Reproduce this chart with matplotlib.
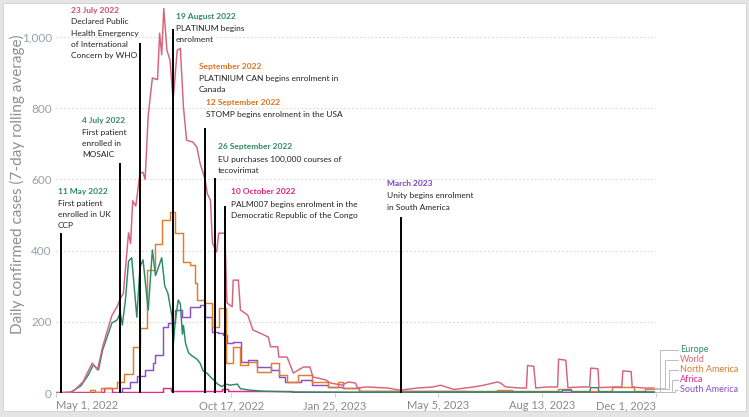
import matplotlib
matplotlib.use("Agg")
import matplotlib.pyplot as plt
import pandas as pd

# ---------------- DATA ----------------
world_dates = ["2022-05-01","2022-05-15","2022-05-17","2022-05-27","2022-05-31","2022-06-05","2022-06-10",
  "2022-06-15","2022-06-20","2022-06-24","2022-06-29","2022-07-02","2022-07-05","2022-07-10","2022-07-12",
  "2022-07-14","2022-07-17","2022-07-21","2022-07-24","2022-07-26","2022-07-29","2022-08-02","2022-08-07",
  "2022-08-09","2022-08-11","2022-08-13","2022-08-16","2022-08-19","2022-08-22","2022-08-26","2022-08-29",
  "2022-09-01","2022-09-04","2022-09-10","2022-09-14","2022-09-17","2022-09-22","2022-09-24","2022-09-27",
  "2022-09-29","2022-10-03","2022-10-05","2022-10-11","2022-10-13","2022-10-18","2022-10-19","2022-10-24",
  "2022-10-26","2022-11-02","2022-11-07","2022-11-14","2022-11-22","2022-11-24","2022-12-01","2022-12-02",
  "2022-12-10","2022-12-16","2022-12-21","2022-12-26","2023-01-01","2023-01-04","2023-01-16","2023-01-21",
  "2023-02-01","2023-02-07","2023-02-14","2023-02-16","2023-02-25","2023-03-17","2023-03-29","2023-04-15",
  "2023-04-30","2023-05-07","2023-05-20","2023-06-08","2023-06-18","2023-07-01","2023-07-04","2023-07-09",
  "2023-07-23","2023-07-29","2023-07-30","2023-08-05","2023-08-07","2023-08-18","2023-08-28","2023-08-29",
  "2023-09-05","2023-09-07","2023-09-19","2023-09-28","2023-09-29","2023-10-06","2023-10-07","2023-10-23",
  "2023-10-29","2023-10-30","2023-11-07","2023-11-08","2023-11-19","2023-11-29"]
world_vals = [0,2,3,31,55,84,65,130,180,218,243,265,280,450,420,540,525,617,620,600,780,885,880,1011,950,1080,
  963,935,823,963,968,803,710,705,690,646,598,560,542,421,396,449,449,253,242,317,317,233,219,177,168,157,130,
  130,101,101,56,65,73,73,45,37,28,22,31,28,14,17,14,8,14,17,22,10,17,22,31,28,17,14,14,77,75,14,17,17,95,92,
  15,17,17,70,68,15,17,17,62,60,17,14,14]

europe_dates = ["2022-05-01","2022-05-15","2022-05-25","2022-06-01","2022-06-06","2022-06-11","2022-06-15",
  "2022-06-24","2022-06-29","2022-07-02","2022-07-04","2022-07-07","2022-07-10","2022-07-13","2022-07-16",
  "2022-07-18","2022-07-21","2022-07-24","2022-07-28","2022-07-29","2022-08-02","2022-08-05","2022-08-08",
  "2022-08-11","2022-08-14","2022-08-17","2022-08-21","2022-08-22","2022-08-24","2022-08-26","2022-08-27",
  "2022-08-29","2022-08-31","2022-09-01","2022-09-03","2022-09-06","2022-09-09","2022-09-14","2022-09-17",
  "2022-09-20","2022-09-24","2022-09-27","2022-09-30","2022-10-04","2022-10-08","2022-10-12","2022-10-16",
  "2022-10-23","2022-10-26","2022-11-04","2022-11-17","2022-12-17","2023-02-25","2023-07-01","2023-09-01",
  "2023-09-02","2023-09-10","2023-09-11","2023-09-28","2023-09-29","2023-10-06","2023-10-07","2023-11-29"]
europe_vals = [0,2,20,50,79,65,121,197,205,225,191,261,370,380,281,213,354,374,261,233,402,330,354,380,300,
  280,213,129,200,242,261,250,165,190,140,112,105,95,84,62,55,45,37,25,18,25,22,25,12,8,5,3,2,3,3,8,8,3,3,15,
  15,3,3]

na_dates = ["2022-05-01","2022-06-03","2022-06-08","2022-06-13","2022-06-29","2022-07-06","2022-07-14",
  "2022-07-21","2022-07-28","2022-08-05","2022-08-11","2022-08-19","2022-08-24","2022-09-01","2022-09-07",
  "2022-09-12","2022-09-14","2022-09-22","2022-09-29","2022-10-05","2022-10-12","2022-10-19","2022-10-26",
  "2022-11-02","2022-11-11","2022-11-24","2022-12-02","2022-12-10","2022-12-21","2023-01-03","2023-01-18",
  "2023-01-28","2023-02-02","2023-02-17","2023-06-01","2023-07-01","2023-07-15","2023-08-28","2023-09-10",
  "2023-10-20","2023-11-10","2023-11-20","2023-11-29"]
na_vals = [0,8,3,14,31,53,130,183,345,418,486,508,449,368,360,309,261,253,185,239,84,129,79,87,59,84,51,31,
  51,31,17,31,14,6,5,8,5,10,5,17,5,10,10]

africa_dates = ["2022-05-01","2022-06-16","2022-06-24","2022-08-12","2022-08-20","2022-09-28","2022-10-08",
  "2022-10-14","2022-12-15","2023-03-01","2023-11-29"]
africa_vals = [2,14,3,14,5,6,10,6,3,2,2]

sa_dates = ["2022-05-01","2022-07-04","2022-07-11","2022-07-18","2022-07-26","2022-08-03","2022-08-05",
  "2022-08-12","2022-08-17","2022-08-24","2022-08-31","2022-09-07","2022-09-17","2022-09-22","2022-09-29",
  "2022-10-04","2022-10-09","2022-10-13","2022-10-19","2022-10-27","2022-11-02","2022-11-11","2022-11-24",
  "2022-12-02","2022-12-08","2022-12-23","2023-01-03","2023-01-18","2023-02-02","2023-02-17","2023-06-01",
  "2023-11-19","2023-11-29"]
sa_vals = [0,14,31,48,65,84,108,185,197,233,213,242,247,213,171,168,163,140,143,87,93,73,65,45,31,37,22,17,
  14,5,3,2,2]

# annotations: date of marker line, top of line (cases), header, body lines
ann_dates = ["2022-05-06","2022-07-02","2022-07-21","2022-08-22","2022-09-22","2022-10-01","2022-10-11","2023-03-30"]
ann_tops = [449,646,983,1022,744,604,525,494]

ann_headers = ["11 May 2022","4 July 2022","23 July 2022","19 August 2022","September 2022",
               "12 September 2022","26 September 2022","10 October 2022","March 2023"]
ann_bodies = [["First patient","enrolled in UK","CCP"],
              ["First patient","enrolled in","MOSAIC"],
              ["Declared Public","Health Emergency","of International","Concern by WHO"],
              ["PLATINUM begins","enrolment"],
              ["PLATINIUM CAN begins enrolment in","Canada"],
              ["STOMP begins enrolment in the USA"],
              ["EU purchases 100,000 courses of","tecovirimat"],
              ["PALM007 begins enrolment in the","Democratic Republic of the Congo"],
              ["Unity begins enrolment","in South America"]]

xtick_dates = ["2022-05-01","2022-10-17","2023-01-25","2023-05-05","2023-08-13","2023-12-01"]
xtick_labels = ["May 1, 2022","Oct 17, 2022","Jan 25, 2023","May 5, 2023","Aug 13, 2023","Dec 1, 2023"]
yticks = [0,200,400,600,800,1000]
ytick_labels = ["0","200","400","600","800","1,000"]

series_names = ["Europe","World","North America","Africa","South America"]

# ---------------- STYLE ----------------
W, H = 749, 417
C_WORLD = "#d6647c"
C_EUROPE = "#2b8b68"
C_NA = "#e07c2c"
C_AFRICA = "#e6288a"
C_SA = "#8a50c4"
ann_colors = ["#2f8a5e","#2f8a5e","#d04a6a","#2f8a5e","#e07020","#e07020","#2f8a5e","#e0207a","#7b3fc0"]
ann_hpos = [(58,191),(82,120),(71,10),(176,16),(199,66),(206,103),(218,147),(231,192),(387,184)]
LINE_GAP = 11.2
FIRST_GAP = 12

fig = plt.figure(figsize=(W/100, H/100), dpi=100)
fig.patch.set_facecolor("#e4e4e4")
bg = plt.Rectangle((3/W, 6/H), (W-6)/W, (H-9)/H, transform=fig.transFigure,
                   facecolor="white", edgecolor="#d0d0d0", lw=0.6, zorder=-5)
fig.patches.append(bg)

x0, x1 = 56, 656
ytop, ybot = 1, 393
ax = fig.add_axes([x0/W, (H-ybot)/H, (x1-x0)/W, (ybot-ytop)/H], zorder=2)
ax.set_facecolor("none")
xmin, xmax = pd.Timestamp("2022-05-01"), pd.Timestamp("2023-12-01")
ax.set_xlim(xmin, xmax)
ymax = (ybot - ytop) / 0.356
ax.set_ylim(0, ymax)

for s in ax.spines.values():
    s.set_visible(False)

for v in yticks[1:]:
    ax.axhline(v, color="#d8d8d8", lw=0.8, ls=(0, (1.5, 2)), zorder=0.5)
ax.axhline(0, color="#cfcfcf", lw=0.8, zorder=0.6)

def d(lst):
    return pd.to_datetime(lst)

lw = 1.05
ax.plot(d(africa_dates), africa_vals, color=C_AFRICA, lw=lw, drawstyle="steps-post", zorder=2.1)
ax.plot(d(sa_dates), sa_vals, color=C_SA, lw=lw, drawstyle="steps-post", zorder=2.2)
ax.plot(d(na_dates), na_vals, color=C_NA, lw=lw, drawstyle="steps-post", zorder=2.3)
ax.plot(d(europe_dates), europe_vals, color=C_EUROPE, lw=lw, zorder=2.4)
ax.plot(d(world_dates), world_vals, color=C_WORLD, lw=lw, zorder=2.5)

ax.vlines(d(ann_dates), 0, ann_tops, color="black", lw=1.4, zorder=3)

ax.set_xticks(d(xtick_dates))
ax.set_xticklabels(xtick_labels)
ax.tick_params(axis="x", length=3, color="#cccccc", labelsize=8, labelcolor="#888888", pad=2)
tl = ax.get_xticklabels()
tl[0].set_ha("left")
tl[-1].set_ha("right")
for t in tl:
    t.set_fontfamily("Lato")
ax.set_yticks(yticks)
ax.set_yticklabels(ytick_labels)
ax.tick_params(axis="y", length=0, labelsize=8.5, labelcolor="#96a0ad", pad=3)
for t in ax.get_yticklabels():
    t.set_fontfamily("Lato")

fig.text(17/W, 1-184/H, "Daily confirmed cases (7-day rolling average)", rotation=90,
         ha="center", va="center", fontsize=11, color="#8f8f8f", family="Lato")

def px(x, y):
    return x/W, 1 - y/H

AFS = 6.0
for hdr, body, col, (hx, hy) in zip(ann_headers, ann_bodies, ann_colors, ann_hpos):
    ax.text(*px(hx, hy), hdr, ha="left", va="center", fontsize=AFS, color=col,
            fontweight="bold", family="Lato", zorder=1.5, transform=fig.transFigure, clip_on=False,
            bbox=dict(facecolor="white", edgecolor="none", pad=0.3))
    for i, line in enumerate(body):
        ax.text(*px(hx, hy + FIRST_GAP + LINE_GAP*i), line, ha="left", va="center",
                fontsize=AFS, color="#222222", family="Lato", zorder=1.5,
                transform=fig.transFigure, clip_on=False,
                bbox=dict(facecolor="white", edgecolor="none", pad=0.3))

lab_cols = [C_EUROPE, C_WORLD, C_NA, C_AFRICA, C_SA]
end_vals = [europe_vals[-1], world_vals[-1], na_vals[-1], africa_vals[-1], sa_vals[-1]]
lab_y = [350, 360, 370, 380, 390]
elbow_x = [660, 665, 669, 672, 675]
for name, col, ev, ly, ex in zip(series_names, lab_cols, end_vals, lab_y, elbow_x):
    ey = ybot - ev*0.356
    xs = [655, ex, ex, 678]
    ys = [ey, ey, ly, ly]
    fig.lines.append(plt.Line2D([x/W for x in xs], [1-y/H for y in ys], transform=fig.transFigure,
                                color="#bdbdbd", lw=0.7))
    fig.text(*px(680, ly), name, ha="left", va="center", fontsize=6.5, color=col, family="Lato")

fig.savefig("out.png", dpi=100, facecolor=fig.get_facecolor())
